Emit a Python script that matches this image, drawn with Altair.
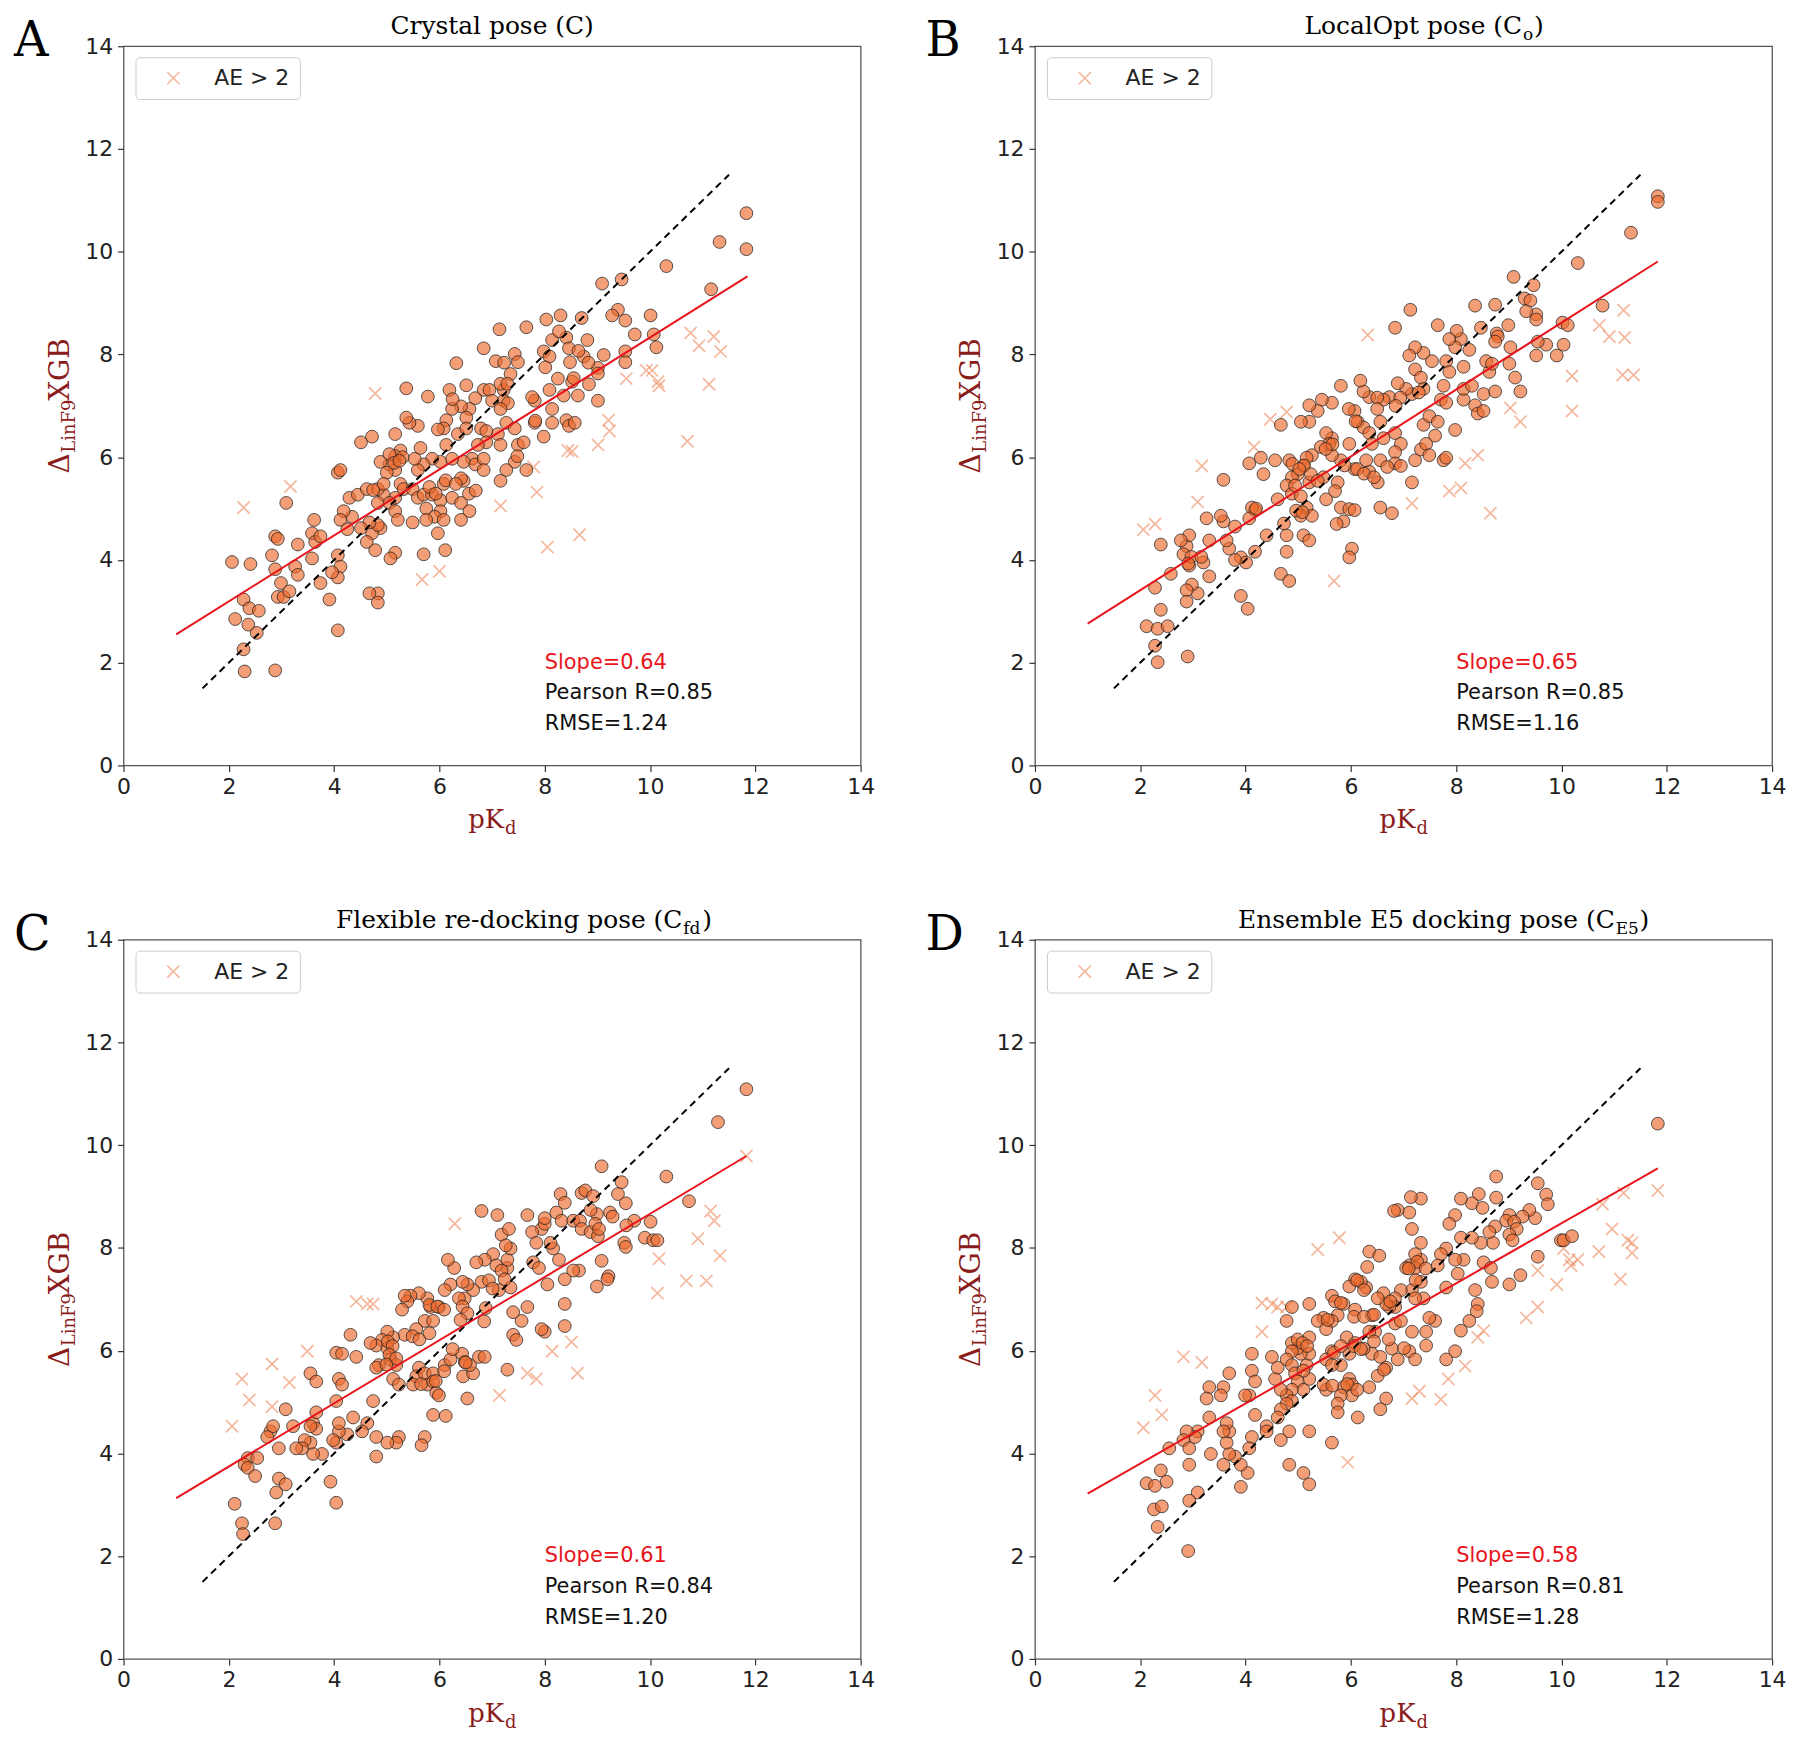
import altair as alt
import pandas as pd

# ---------------- data ----------------
A_CIRCLES = [(11.83,10.75),(11.83,10.05),(11.32,10.19),(10.31,9.72),(11.16,9.27),(9.09,9.38),(9.46,9.46),(9.39,8.87),(9.28,8.76),(9.53,8.66),(10.01,8.76),(9.71,8.39),(10.07,8.39),(10.12,8.14),(9.53,8.06),(9.53,7.85),(9.01,7.74),(9.01,7.63),(9.01,7.10),(8.74,7.96),(8.81,8.28),(8.70,8.71),(8.30,8.76),(8.03,8.68),(7.65,8.53),(7.14,8.49),(6.84,8.12),(6.32,7.83),(6.51,7.40),(6.19,7.31),(5.78,7.18),(5.37,7.34),
    (7.43,8.01),(7.49,7.85),(7.98,8.06),(8.14,8.28),(8.09,7.96),(8.41,8.33),(8.46,8.12),(8.48,7.85),(8.25,7.53),(8.36,7.20),(8.52,7.47),(8.63,7.20),(8.09,7.31),(7.81,7.10),(7.81,6.67),(7.98,6.40),(8.14,6.94),(8.14,6.67),(8.41,6.72),(8.46,6.61),(8.57,6.67),
    (7.22,7.31),(7.22,7.10),(7.27,6.67),(7.11,6.45),(7.43,6.56),(7.49,6.24),(7.60,6.29),(7.65,5.75),(7.43,5.91),(7.27,5.75),(7.16,5.54),(7.16,6.24),(6.84,7.31),(6.95,7.31),(6.68,7.15),(6.57,6.94),(6.41,6.99),(6.24,6.94),(6.13,6.72),(6.08,6.56),(5.97,6.54),(6.35,6.45),(6.51,6.77),(6.51,6.56),(6.79,6.56),(6.89,6.51),(6.89,6.29),(6.73,6.24),(6.62,5.97),(6.68,5.86),(6.84,5.97),(6.84,5.75),(6.46,5.91),(6.46,5.54),(6.41,5.59),(6.08,5.48),(6.02,5.91),(6.24,5.97),(6.13,6.24),(5.86,5.97),(5.70,5.86),(5.59,5.75),(5.53,5.97),(5.64,6.18),(5.59,6.61),(5.43,6.67),(5.37,6.77),(5.16,6.45),(5.26,6.13),(5.16,6.02),(5.05,5.86),(4.88,5.91),(5.16,5.75),(5.00,5.70),(5.26,5.48),(5.32,5.38),(5.16,5.21),(4.94,5.27),(4.83,5.38),(4.83,5.11),(5.05,5.11),(5.16,4.95),(5.49,5.38),(5.59,5.21),(5.70,5.27),(5.75,5.00),(5.86,5.27),(6.02,5.16),(6.02,4.95),(5.91,4.84),(5.75,4.78),(6.08,4.78),(6.24,5.21),(6.41,5.11),(6.57,4.95),(6.41,4.78),(5.97,4.52),(5.70,4.11),(6.11,4.19),(5.49,4.73),(5.21,4.78),(5.16,4.14),(5.07,4.03),(4.88,4.62),(4.72,4.52),(4.83,4.68),(4.67,4.73),(4.51,4.62),(4.62,4.35),(4.78,4.19),(4.34,4.84),(4.29,5.21),(4.45,5.27),(4.62,5.38),(4.51,6.29),(4.72,6.40),(4.07,5.70),(4.12,5.75),(4.18,4.95),(4.12,4.78),(4.07,4.09),(4.12,3.87),(4.07,3.66),(3.96,3.76),(3.91,3.23),(4.07,2.63),(3.62,4.78),(3.58,4.52),(3.64,4.35),(3.74,4.46),(3.58,4.03),(3.74,3.55),(3.31,4.30),(3.26,3.87),(3.31,3.71),(3.09,5.11),(2.88,4.46),(2.93,4.41),(2.82,4.09),(2.88,3.82),(2.99,3.55),(2.93,3.28),(3.04,3.28),(3.15,3.39),(2.88,1.85),(2.41,3.92),(2.06,3.96),(2.28,3.23),(2.39,3.06),(2.12,2.85),(2.37,2.74),(2.57,3.01),(2.53,2.58),(2.28,2.26),(2.30,1.83),(4.83,3.35),(4.67,3.35),(4.83,3.17),(4.94,5.48),(4.25,4.60),(5.30,6.00),
    (7.07,7.87),(7.23,7.84),(6.25,7.13),(7.00,7.10),(7.16,7.43),(7.30,7.05),(7.16,6.94),(5.05,6.06),(5.14,5.89),(5.24,5.93),(4.74,5.36),(5.81,5.42),(5.93,5.29),(6.12,5.55),(6.31,5.48),(6.56,5.29),(6.69,5.35),(9.12,7.99),(8.83,7.84),(8.64,8.07),(8.01,7.75),(8.27,8.45),(7.35,7.62),(7.29,7.43),(8.55,7.54),(8.84,7.42),(7.76,7.17),(7.82,6.71),(7.48,6.02)]
A_CROSSES = [(2.28,5.02),(3.17,5.43),(4.78,7.24),(5.67,3.62),(6.00,3.78),(7.16,5.05),(7.85,5.32),(7.79,5.81),(8.05,4.25),(8.44,6.13),(8.52,6.11),(8.66,4.49),(9.01,6.24),(9.21,6.72),(9.23,6.51),(9.55,7.53),(9.93,7.69),(10.04,7.69),(10.15,7.47),(10.17,7.39),(10.71,6.31),(10.77,8.42),(10.93,8.17),(11.12,7.42),(11.21,8.35),(11.34,8.06)]

B_CIRCLES = [(11.83,11.08),(11.83,10.97),(11.32,10.37),(10.31,9.78),(10.78,8.95),(9.09,9.51),(9.47,9.35),(9.30,9.09),(9.41,9.05),(9.52,8.78),(9.52,8.68),(9.33,8.84),(10.02,8.62),(10.12,8.57),(10.04,8.19),(9.91,7.98),(9.71,8.19),(9.55,8.25),(9.52,7.98),(9.03,8.14),(9.01,7.82),(9.12,7.55),(9.22,7.28),(8.99,8.57),(8.74,8.97),(8.77,8.41),(8.79,8.35),(8.74,8.25),(8.36,8.95),(8.47,8.52),(8.25,8.09),(8.09,8.30),(8.01,8.46),(7.98,8.14),(7.81,7.87),(7.87,8.30),(7.65,8.57),(7.54,7.87),(7.38,8.03),(7.22,8.14),(7.11,7.98),(7.22,7.71),(7.33,7.55),(7.38,7.33),(7.16,7.23),(7.05,7.33),(6.89,7.44),(6.84,8.52),(7.13,8.87),(6.73,7.17),(6.62,7.12),(6.35,7.17),(6.24,7.28),(6.18,7.49),(6.07,6.90),(5.81,7.39),(5.64,7.06),(5.45,7.12),(5.37,6.90),(5.21,7.01),(5.21,6.69),(5.05,6.69),(4.67,6.63),(6.13,6.69),(6.24,6.58),(6.35,6.47),(6.40,6.26),(6.62,6.37),(6.56,6.69),(6.84,6.47),(6.95,6.26),(6.84,6.10),(6.84,5.88),(6.95,5.83),(7.16,5.51),(7.22,5.94),(7.33,6.15),(7.38,6.63),(7.49,6.80),(7.65,6.69),(7.60,6.42),(7.43,6.26),(7.49,6.04),(7.76,5.94),(7.81,5.99),(7.98,6.53),(8.14,7.12),(8.14,7.33),(8.30,7.39),(8.36,7.01),(8.41,6.85),(8.52,7.23),(8.52,6.90),(8.74,7.28),(8.63,7.66),(8.57,7.87),(8.68,7.82),(8.14,7.76),(7.87,7.66),(7.76,7.39),(7.71,7.12),(7.81,7.06),(6.56,5.94),(6.51,5.51),(6.56,5.02),(6.78,4.91),(6.35,5.72),(6.29,5.94),(6.07,5.77),(5.97,6.26),(5.81,5.94),(5.64,6.04),(5.64,6.37),(5.53,6.47),(5.59,6.26),(5.43,6.20),(5.26,6.04),(5.16,5.99),(5.10,5.83),(4.99,5.67),(4.83,5.94),(4.88,5.61),(4.78,5.45),(4.61,5.18),(4.88,5.29),(4.94,5.45),(5.05,5.24),(5.16,5.02),(5.05,4.86),(5.26,4.86),(5.21,5.51),(5.48,5.61),(5.53,5.18),(5.75,5.51),(5.70,5.34),(5.81,5.02),(5.97,4.99),(6.07,4.97),(5.86,4.75),(5.73,4.70),(6.02,4.22),(5.97,4.05),(5.10,4.48),(5.21,4.38),(4.78,4.48),(4.78,4.16),(4.67,3.73),(4.83,3.59),(4.40,4.48),(4.18,4.97),(4.12,5.02),(4.18,4.16),(4.07,5.88),(4.29,5.99),(4.34,5.67),(4.56,5.94),(4.07,4.81),(3.91,4.05),(4.01,3.95),(3.80,4.00),(3.69,4.22),(3.64,4.38),(3.58,4.75),(3.53,4.86),(3.58,5.56),(3.80,4.65),(3.31,3.68),(3.31,4.38),(3.26,4.81),(3.20,3.95),(3.09,3.35),(2.98,3.52),(2.88,3.41),(2.93,3.89),(2.88,4.27),(2.93,4.48),(2.82,4.11),(2.77,4.38),(2.88,3.19),(2.90,2.12),(2.58,3.73),(2.39,4.30),(2.28,3.46),(2.39,3.03),(2.12,2.71),(2.33,2.66),(2.52,2.71),(2.28,2.33),(2.33,2.01),(3.91,3.30),(4.04,3.05),
    (6.50,7.16),(6.94,7.16),(6.85,7.00),(7.29,7.26),(5.96,6.94),(6.09,6.70),(6.50,6.94),(5.65,6.25),(5.52,6.16),(5.88,5.84),(6.12,5.77),(6.25,5.68),(6.44,5.61),(6.69,5.81),(4.89,5.87),(5.11,5.84),(5.02,5.77),(5.24,5.67),(5.37,5.54),(4.96,4.96),(5.08,4.93),(4.73,4.71),(4.20,5.00),(2.97,4.06),(3.16,4.06),(2.91,3.93)]
B_CROSSES = [(2.06,4.59),(2.28,4.70),(3.09,5.13),(3.17,5.83),(4.16,6.20),(4.47,6.74),(4.78,6.88),(5.68,3.59),(6.32,8.38),(7.16,5.10),(7.87,5.34),(8.09,5.40),(8.17,5.88),(8.41,6.04),(8.65,4.91),(9.03,6.96),(9.22,6.69),(10.20,7.58),(10.20,6.90),(10.72,8.57),(10.91,8.35),(11.18,8.86),(11.20,8.33),(11.16,7.60),(11.37,7.60)]

C_CIRCLES = [(11.83,11.09),(11.29,10.45),(10.31,9.39),(10.74,8.91),(9.08,9.59),(9.46,9.28),(9.39,9.05),(9.54,8.87),(9.24,8.69),(9.29,8.61),(8.99,8.66),(8.87,8.74),(8.70,9.07),(8.77,9.12),(8.92,9.01),(8.30,9.05),(8.38,8.88),(8.22,8.69),(8.32,8.53),(8.54,8.53),(8.67,8.53),(8.70,8.37),(8.87,8.31),(8.96,8.47),(9.01,8.23),(9.03,8.37),(9.70,8.53),(9.55,8.44),(9.51,8.10),(9.54,8.02),(10.01,8.51),(9.90,8.20),(10.06,8.15),(10.14,8.15),(9.08,7.75),(9.21,7.45),(9.19,7.39),(8.99,7.25),(8.65,7.56),(8.54,7.56),(8.38,7.39),(8.27,7.77),(8.16,7.99),(8.11,8.10),(7.94,8.37),(8.00,8.47),(8.00,8.58),(7.76,8.31),(7.67,8.64),(7.84,8.10),(7.78,7.72),(7.89,7.61),(8.05,7.29),(8.38,6.91),(8.38,6.48),(8.00,6.37),(7.94,6.42),(7.67,6.85),(7.56,6.58),(7.40,6.75),(7.40,6.31),(7.46,6.21),(7.29,5.63),(7.35,7.23),(7.29,7.61),(7.29,7.77),(7.35,7.99),(7.18,8.26),(7.10,8.64),(6.80,8.72),(7.02,7.88),(7.08,7.66),(7.18,7.56),(7.24,7.39),(7.13,7.18),(6.86,7.77),(6.70,7.72),(6.80,7.34),(6.64,7.18),(6.53,7.29),(6.48,7.02),(6.37,7.02),(6.28,7.61),(6.21,7.29),(6.10,7.18),(6.16,7.77),(5.99,6.85),(5.83,6.85),(5.77,7.02),(5.61,7.12),(5.45,7.07),(5.39,6.96),(5.29,6.80),(5.34,7.07),(5.72,6.58),(5.88,6.58),(5.56,6.42),(5.34,6.31),(5.12,6.26),(5.01,6.37),(4.91,6.21),(4.80,6.10),(4.69,6.15),(5.01,6.05),(4.85,5.72),(4.80,5.67),(5.07,5.83),(5.18,5.72),(5.12,5.45),(5.23,5.34),(5.61,5.67),(5.56,5.50),(5.72,5.56),(5.88,5.56),(5.50,5.34),(5.77,5.34),(5.88,5.40),(5.94,5.18),(5.99,5.13),(6.10,5.72),(6.21,5.83),(6.43,5.94),(6.48,5.78),(6.45,5.50),(6.64,5.56),(6.58,5.72),(6.75,5.88),(6.86,5.88),(6.53,5.07),(5.88,4.75),(6.12,4.73),(5.72,4.32),(5.66,4.16),(5.23,4.32),(5.18,4.21),(5.01,4.21),(4.80,4.32),(4.80,3.94),(4.63,4.59),(4.74,5.02),(4.53,4.43),(4.36,4.70),(4.25,4.37),(4.09,4.43),(4.09,4.59),(4.04,5.02),(4.09,5.45),(4.15,5.34),(4.04,4.21),(3.98,4.26),(4.04,3.04),(3.93,3.45),(3.77,3.99),(3.60,3.99),(3.55,4.21),(3.60,4.59),(3.66,4.80),(3.66,4.48),(3.55,4.53),(3.44,4.26),(3.39,4.10),(3.28,4.10),(3.22,4.53),(3.55,5.56),(3.66,5.40),(4.04,5.96),(4.15,5.94),(4.31,6.31),(4.42,5.88),(3.08,4.86),(2.95,4.10),(2.79,4.43),(2.84,4.53),(2.73,4.32),(2.95,3.51),(3.08,3.40),(2.90,3.24),(2.88,2.64),(2.36,3.91),(2.30,3.78),(2.36,3.72),(2.54,3.91),(2.50,3.56),(2.11,3.02),(2.25,2.64),(2.27,2.43),
    (7.32,8.37),(7.26,8.05),(6.44,7.34),(6.94,7.37),(7.01,7.21),(6.44,6.86),(6.53,6.73),(6.40,6.60),(6.88,6.83),(6.85,6.57),(5.81,6.89),(5.96,6.86),(6.09,6.80),(5.02,6.18),(5.11,6.09),(5.05,5.92),(5.18,5.85),(4.99,5.73),(5.49,6.28),(5.62,6.22),(5.81,6.34),(6.09,5.60),(5.65,5.35),(5.93,5.41),(6.25,6.03),(6.50,5.77)]
C_CROSSES = [(2.06,4.53),(2.25,5.45),(2.39,5.04),(2.82,5.74),(2.82,4.91),(3.15,5.38),(3.49,5.99),(4.42,6.96),(4.63,6.91),(4.74,6.91),(6.29,8.47),(7.14,5.13),(7.67,5.56),(7.84,5.45),(8.14,5.99),(8.51,6.17),(8.62,5.56),(10.17,7.79),(10.14,7.12),(10.69,7.36),(10.91,8.18),(11.07,7.36),(11.15,8.72),(11.22,8.53),(11.33,7.85),(11.83,9.79)]

D_CIRCLES = [(11.83,10.42),(8.76,9.39),(8.76,8.98),(9.55,9.26),(9.71,9.04),(9.74,8.85),(9.50,8.58),(9.39,8.74),(9.26,8.61),(9.01,8.64),(8.95,8.53),(9.10,8.51),(9.15,8.37),(9.01,8.26),(9.07,8.15),(8.74,8.42),(8.70,8.10),(8.63,8.31),(8.47,8.10),(8.43,9.05),(8.30,8.87),(8.09,8.96),(8.50,8.78),(7.98,8.64),(7.87,8.47),(8.09,8.20),(8.30,8.20),(8.14,7.77),(7.98,7.77),(8.03,7.50),(7.81,7.99),(7.71,7.88),(7.65,7.66),(7.81,7.23),(8.52,7.72),(8.66,7.61),(8.68,7.34),(9.01,7.29),(9.22,7.47),(9.55,7.83),(9.99,8.15),(10.04,8.15),(10.20,8.23),(8.36,7.18),(8.41,6.91),(8.39,6.77),(8.25,6.58),(8.09,6.39),(7.98,5.99),(7.81,5.83),(7.60,6.58),(7.49,6.64),(7.43,6.10),(7.43,6.37),(7.38,7.02),(7.33,7.34),(7.33,7.77),(7.33,8.10),(7.33,8.96),(7.14,8.99),(7.22,7.88),(7.11,7.66),(7.22,7.61),(7.05,7.61),(7.16,8.37),(7.11,8.69),(6.89,8.74),(6.82,8.72),(7.16,7.18),(7.22,7.02),(6.95,7.18),(6.84,7.02),(6.84,6.85),(6.73,6.85),(6.62,7.12),(6.67,6.91),(6.51,7.02),(6.40,6.69),(6.46,6.37),(6.35,6.37),(6.40,5.94),(6.56,5.88),(6.67,5.67),(6.78,6.04),(6.89,5.83),(6.84,6.53),(6.95,6.58),(7.16,6.37),(7.11,5.99),(7.22,5.83),(6.67,5.07),(6.56,4.86),(6.51,5.51),(6.35,7.93),(6.54,7.85),(6.29,7.23),(6.19,7.34),(6.08,7.39),(5.97,7.25),(6.08,6.80),(5.86,6.91),(5.64,7.07),(5.70,6.96),(5.75,6.69),(5.64,6.58),(5.48,6.64),(5.37,6.58),(5.53,6.42),(5.21,6.91),(5.92,6.26),(6.08,6.15),(6.24,6.04),(5.97,5.94),(5.81,5.72),(5.64,5.99),(5.53,5.83),(5.64,5.72),(5.97,5.45),(6.02,5.34),(5.86,5.29),(6.02,5.13),(6.35,5.29),(5.81,5.13),(5.75,4.97),(5.75,4.80),(6.13,4.70),(5.64,4.21),(5.21,4.43),(5.10,3.62),(5.21,3.40),(5.53,5.24),(5.48,5.34),(5.21,5.45),(5.16,5.72),(5.21,5.94),(5.05,5.94),(4.99,6.05),(4.88,6.15),(4.88,5.99),(4.78,5.83),(4.88,5.72),(4.94,5.56),(5.10,5.61),(4.99,5.40),(5.10,5.24),(4.88,5.24),(4.78,5.13),(4.67,5.24),(4.56,5.45),(4.61,5.67),(4.50,5.88),(4.88,6.85),(4.78,6.58),(5.21,6.26),(4.88,5.02),(4.78,4.97),(4.67,4.86),(4.61,4.70),(4.83,4.43),(4.67,4.26),(4.83,3.78),(4.40,4.53),(4.40,4.43),(4.12,4.32),(4.18,4.75),(4.07,5.13),(4.12,5.61),(4.12,5.94),(4.18,5.40),(3.99,5.13),(4.07,4.10),(4.04,3.62),(3.91,3.78),(3.91,3.35),(3.80,3.94),(3.69,3.99),(3.64,4.21),(3.69,4.43),(3.64,4.59),(3.58,4.43),(3.58,3.78),(3.69,5.56),(3.58,5.29),(3.53,5.13),(3.31,5.29),(3.26,5.07),(3.31,4.70),(3.34,3.99),(3.09,4.43),(3.04,4.32),(2.88,4.43),(2.82,4.26),(2.93,4.10),(2.93,3.78),(2.55,4.10),(3.09,3.24),(2.93,3.08),(2.91,2.10),(2.39,3.67),(2.50,3.45),(2.12,3.42),(2.28,3.37),(2.26,2.91),(2.41,2.97),(2.33,2.57),
    (7.26,7.73),(7.10,7.60),(7.42,7.60),(7.23,7.37),(6.31,7.63),(6.12,7.37),(6.25,7.18),(5.81,6.93),(6.06,6.66),(6.25,6.66),(6.44,6.70),(6.75,6.96),(5.56,6.60),(4.99,6.22),(5.08,6.15),(5.17,6.09),(5.68,5.96),(5.81,6.09),(6.06,6.09),(6.19,6.03),(6.44,6.18),(6.72,6.22),(7.01,6.05),(6.63,5.63),(5.65,5.32),(5.93,5.35),(6.12,5.24)]
D_CROSSES = [(2.06,4.50),(2.28,5.13),(2.41,4.75),(2.82,5.88),(3.17,5.77),(4.31,6.37),(4.31,6.93),(4.50,6.91),(4.61,6.85),(4.78,6.85),(5.37,7.97),(5.78,8.20),(5.94,3.83),(7.16,5.07),(7.30,5.21),(7.71,5.05),(7.85,5.45),(8.17,5.70),(8.41,6.26),(8.52,6.39),(9.33,6.64),(9.55,6.85),(9.55,7.56),(9.91,7.29),(10.04,7.99),(10.15,7.77),(10.18,7.66),(10.31,7.77),(10.71,7.93),(10.78,8.85),(10.96,8.37),(11.12,7.39),(11.18,9.07),(11.26,8.15),(11.34,8.10),(11.34,7.90),(11.83,9.12)]

# fitted (red) line end points and the y = x reference segment
A_FIT = [(1.0, 2.55), (11.85, 9.52)]
B_FIT = [(1.0, 2.76), (11.83, 9.81)]
C_FIT = [(1.0, 3.13), (11.83, 9.79)]
D_FIT = [(1.0, 3.22), (11.83, 9.55)]
DIAG = [(1.5, 1.5), (11.5, 11.5)]

# statistics: slope, Pearson R, RMSE
STATS = {"A": ("0.64", "0.85", "1.24"), "B": ("0.65", "0.85", "1.16"),
         "C": ("0.61", "0.84", "1.20"), "D": ("0.58", "0.81", "1.28")}
STAT_X = [8.0, 8.0, 8.0]
STAT_Y = [2.0, 1.4, 0.8]

TITLES = {  # main text, subscript, closing
    "A": ("Crystal pose (C)", "", ""),
    "B": ("LocalOpt pose (C", "o", ")"),
    "C": ("Flexible re-docking pose (C", "fd", ")"),
    "D": ("Ensemble E5 docking pose (C", "E5", ")"),
}
TICKS = [0, 2, 4, 6, 8, 10, 12, 14]
LEGEND_LABEL = "AE > 2"

# ---------------- style ----------------
W, H = 740, 722
SERIF = "DejaVu Serif"
SANS = "DejaVu Sans"
AXT = "#8b1c1c"
FILL = "#ec6a2c"
CROSS = "#f08a5d"
XPATH = "M-1,-1L1,1M-1,1L1,-1"


def text_layer(txt, x, y, size, font=SERIF, color="black", align="center",
               baseline="alphabetic", angle=0):
    return alt.Chart(pd.DataFrame({"t": [txt]})).mark_text(
        align=align, baseline=baseline, font=font, fontSize=size,
        color=color, angle=angle
    ).encode(text="t:N", x=alt.value(x), y=alt.value(y))


def panel(key, circles, crosses, fit):
    xs = alt.Scale(domain=[0, 14], nice=False, zero=False)
    ys = alt.Scale(domain=[0, 14], nice=False, zero=False)
    ax = dict(values=TICKS, title=None, grid=False, domain=False, ticks=True,
              tickSize=6, tickColor="#333", tickWidth=1.2, labelFont=SANS,
              labelFontSize=22, labelColor="#222", labelPadding=5,
              labelFlush=False, labelOverlap=False)
    X = lambda: alt.X("x:Q", scale=xs, axis=alt.Axis(**ax))
    Y = lambda: alt.Y("y:Q", scale=ys, axis=alt.Axis(**ax))

    cdf = pd.DataFrame(circles, columns=["x", "y"])
    xdf = pd.DataFrame(crosses, columns=["x", "y"])
    xdf["lab"] = LEGEND_LABEL

    cross_layer = alt.Chart(xdf).mark_point(
        shape=XPATH, filled=False, size=150, strokeWidth=1.7, opacity=0.6
    ).encode(
        x=X(), y=Y(),
        color=alt.Color("lab:N", scale=alt.Scale(domain=[LEGEND_LABEL], range=[CROSS]),
                        legend=alt.Legend(
                            title=None, orient="none", legendX=12, legendY=11,
                            padding=10, fillColor="white", strokeColor="#cccccc",
                            cornerRadius=4, labelFont=SANS, labelFontSize=22,
                            labelColor="#222", symbolType=XPATH, symbolSize=150,
                            symbolStrokeWidth=1.7, symbolOpacity=0.6,
                            symbolOffset=17, labelOffset=30,
                            labelExpr="datum.label + '\u00a0\u00a0\u00a0'"))
    )
    circ_layer = alt.Chart(cdf).mark_circle(
        size=165, fill=FILL, fillOpacity=0.65, stroke="#222", strokeOpacity=0.75,
        strokeWidth=1
    ).encode(x=X(), y=Y())
    diag = alt.Chart(pd.DataFrame(DIAG, columns=["x", "y"])).mark_line(
        color="black", strokeWidth=2, strokeDash=[7, 5]
    ).encode(x=X(), y=Y())
    fitl = alt.Chart(pd.DataFrame(fit, columns=["x", "y"])).mark_line(
        color="#e8141c", strokeWidth=2
    ).encode(x=X(), y=Y())

    s, r, e = STATS[key]
    sdf = pd.DataFrame({"x": STAT_X, "y": STAT_Y,
                        "t": [f"Slope={s}", f"Pearson R={r}", f"RMSE={e}"]})
    slope_txt = alt.Chart(sdf.iloc[[0]]).mark_text(
        align="left", baseline="middle", font=SANS, fontSize=21, color="#e8141c"
    ).encode(x=X(), y=Y(), text="t:N")
    other_txt = alt.Chart(sdf.iloc[[1, 2]]).mark_text(
        align="left", baseline="middle", font=SANS, fontSize=21, color="#111"
    ).encode(x=X(), y=Y(), text="t:N")

    main, sub, close = TITLES[key]
    texts = []
    if not sub:
        texts.append(text_layer(main, W / 2, -12, 25))
    else:
        ends = {"B": 489, "C": 561, "D": 582}[key]
        subw = {"B": 11, "C": 19, "D": 24}[key]
        texts.append(text_layer(main, ends, -12, 25, align="right"))
        texts.append(text_layer(sub, ends + 1, -6, 17, align="left"))
        texts.append(text_layer(close, ends + 1 + subw, -12, 25, align="left"))
    # panel letter
    texts.append(text_layer(key, -110, 10, 48, align="left"))
    # x-axis title pK_d
    texts.append(text_layer("pK", 382, H + 63, 26, color=AXT, align="right"))
    texts.append(text_layer("d", 383, H + 69, 18, color=AXT, align="left"))
    # y-axis title Delta_LinF9 XGB (rotated)
    texts.append(text_layer("\u0394", -55, 429, 28, color=AXT, align="left", angle=270))
    texts.append(text_layer("LinF9", -49, 408, 18, color=AXT, align="left", angle=270))
    texts.append(text_layer("XGB", -55, 356, 28, color=AXT, align="left", angle=270))

    return alt.layer(cross_layer, circ_layer, diag, fitl, slope_txt, other_txt,
                     *texts).properties(width=W, height=H)


pA = panel("A", A_CIRCLES, A_CROSSES, A_FIT)
pB = panel("B", B_CIRCLES, B_CROSSES, B_FIT)
pC = panel("C", C_CIRCLES, C_CROSSES, C_FIT)
pD = panel("D", D_CIRCLES, D_CROSSES, D_FIT)

chart = alt.concat(pA, pB, pC, pD, columns=2, spacing=175, bounds="flush").resolve_scale(
    color="independent").resolve_legend(color="independent").properties(
    padding={"left": 5, "top": 2, "right": 5, "bottom": 5},
    background="white"
).configure_view(stroke="#555", strokeWidth=1.3)

chart.save("out.html", embed_options={"renderer": "svg", "actions": False})
